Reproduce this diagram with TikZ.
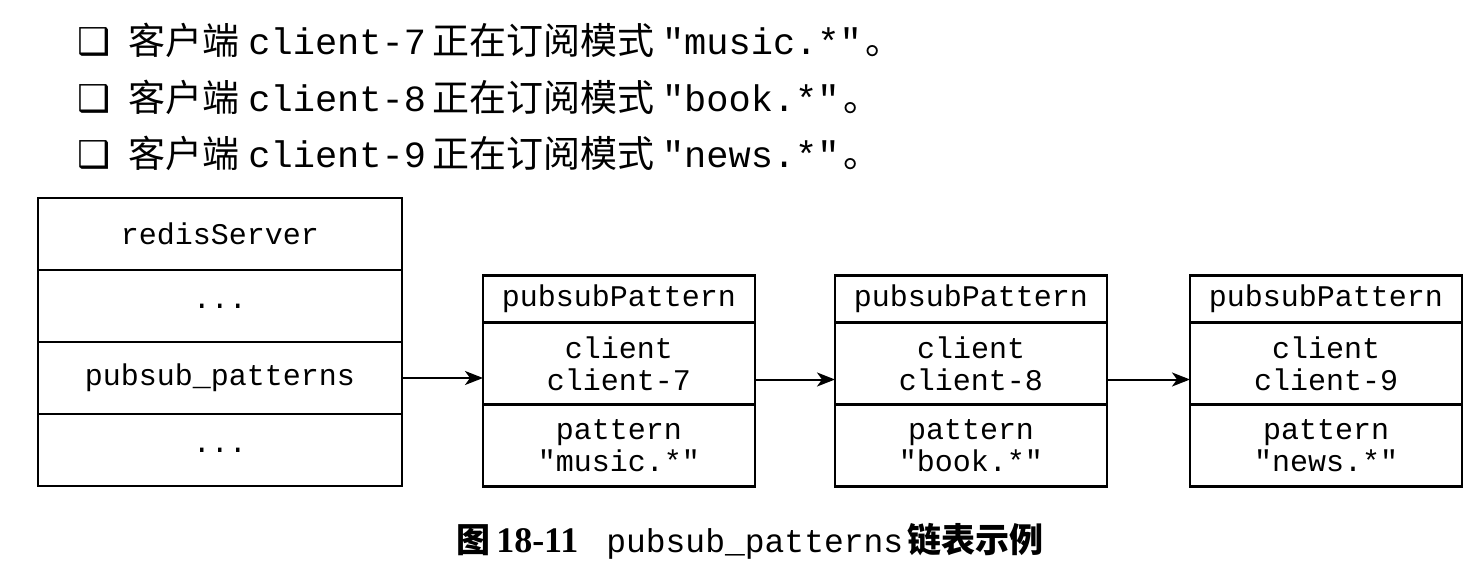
\documentclass[tikz,border=0pt]{standalone}
\usepackage{fontspec}
\setmainfont{Liberation Serif}
\setmonofont{Liberation Mono}
\newfontfamily\cjk{Noto Sans CJK SC}
\newfontfamily\symfont{DejaVu Sans}
\usetikzlibrary{arrows.meta,positioning}
\tikzset{>/.tip={Stealth[length=18pt,width=14pt,inset=5pt]}}
\newcommand{\zh}[1]{{\cjk #1}}

\begin{document}
\begin{tikzpicture}[x=1pt,y=-1pt,line width=2.5pt,
  item/.style={anchor=west,inner sep=0pt,font=\fontsize{37}{40}\selectfont},
  cell/.style={draw,outer sep=0pt,inner sep=0pt,align=center,font=\fontsize{30}{32}\selectfont\ttfamily},
  srvrow/.style={cell,minimum width=364pt,minimum height=72pt},
  head/.style={cell,minimum width=272pt,minimum height=47pt},
  field/.style={cell,minimum width=272pt,minimum height=82pt}]
\useasboundingbox (0,0) rectangle (1478,575);

% the three subscriptions
\foreach \n/\p/\y in {7/music/40,8/book/97,9/news/153}
{
  \node[item] (item\n) at (76,\y) {{\symfont ❑}\hspace{18pt}\zh{客户端}\hspace{9pt}\texttt{client-\n}\hspace{6pt}\zh{正在订阅模式}\hspace{8pt}\texttt{"\p.*"}\hspace{4pt}\zh{。}};
}

% redisServer
\node[srvrow] (srv-title) at (220,234) {redisServer};
\node[srvrow,below=0pt of srv-title] (srv-dots1) {...};
\node[srvrow,below=0pt of srv-dots1] (srv-patterns) {pubsub\_patterns};
\node[srvrow,below=0pt of srv-patterns] (srv-dots2) {...};

% pubsubPattern list
\foreach \n/\p/\x [count=\i] in {7/music/619,8/book/971,9/news/1326}
{
  \node[head] (pp\i-head) at (\x,299) {pubsubPattern};
  \node[field,below=0pt of pp\i-head] (pp\i-client) {client\\client-\n};
  \node[field,below=0pt of pp\i-client] (pp\i-pattern) {pattern\\"\p.*"};
}

\draw[->,line width=2pt] (srv-patterns.east) -- (srv-patterns.east -| pp1-head.west);
\foreach \i/\j in {1/2,2/3}
{
  \draw[->,line width=2pt] ([yshift=-16pt]pp\i-client.east) -- ([yshift=-16pt]pp\j-client.west);
}

\node[anchor=west,inner sep=0pt,font=\fontsize{34}{36}\selectfont] (caption) at (455,541)
  {\zh{\bfseries 图}\hspace{6pt}\textbf{\fontsize{36}{36}\selectfont 18-11}\hspace{28pt}\texttt{\fontsize{33}{36}\selectfont pubsub\_patterns}\hspace{4pt}\zh{\bfseries 链表示例}};
\end{tikzpicture}
\end{document}
